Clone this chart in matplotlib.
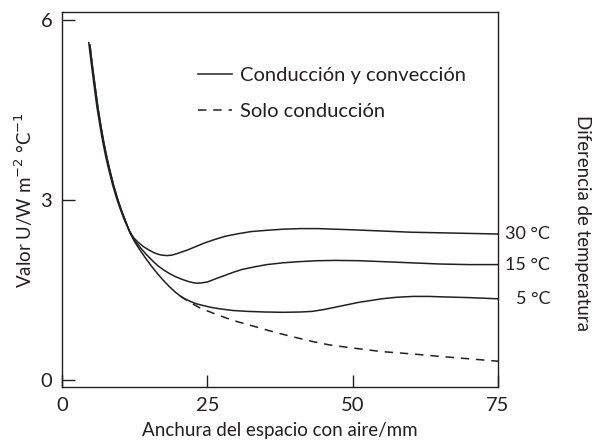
import matplotlib
matplotlib.use("Agg")
import matplotlib.pyplot as plt
import matplotlib.transforms as mtransforms

plt.rcParams['font.family'] = ['Lato', 'DejaVu Sans']

# anchura del espacio (mm) y valor U
x_30 = [4.6, 5.0, 5.5, 6.0, 6.5, 7.0, 7.5, 8.0, 8.7, 9.4, 10.0, 10.7, 11.5, 12.3, 13.0,
        14.0, 15.0, 16.0, 17.0, 18.1, 19.0, 20.0, 21.5, 23.0, 24.5, 26.0, 28.0, 30.0,
        32.5, 35.0, 38.0, 41.0, 44.0, 47.0, 50.0, 55.0, 60.0, 65.0, 70.0, 75.0]
u_30 = [5.62, 5.30, 4.92, 4.55, 4.25, 3.97, 3.73, 3.52, 3.25, 3.02, 2.85, 2.67, 2.50, 2.37, 2.30,
        2.22, 2.16, 2.11, 2.08, 2.07, 2.08, 2.11, 2.16, 2.22, 2.28, 2.33, 2.39, 2.43,
        2.47, 2.49, 2.51, 2.52, 2.52, 2.51, 2.50, 2.48, 2.46, 2.45, 2.44, 2.43]

x_15 = [4.8, 5.2, 5.7, 6.2, 6.7, 7.2, 7.7, 8.2, 8.9, 9.6, 10.2, 10.9, 11.7, 12.5, 13.5,
        14.5, 15.5, 16.5, 17.5, 18.5, 19.5, 20.5, 21.5, 22.5, 23.2, 24.0, 25.0, 26.6,
        28.0, 29.4, 31.0, 33.0, 35.2, 38.0, 40.9, 44.0, 47.0, 51.0, 55.0, 60.0, 65.0,
        70.0, 75.0]
u_15 = [5.58, 5.25, 4.88, 4.52, 4.22, 3.95, 3.71, 3.50, 3.23, 3.00, 2.83, 2.65, 2.45, 2.32, 2.20,
        2.09, 1.99, 1.90, 1.83, 1.77, 1.72, 1.68, 1.645, 1.62, 1.61, 1.615, 1.63, 1.69,
        1.74, 1.79, 1.84, 1.88, 1.92, 1.95, 1.97, 1.985, 1.99, 1.985, 1.97, 1.95, 1.93,
        1.92, 1.92]

x_5 = [4.8, 5.2, 5.7, 6.2, 6.7, 7.2, 7.7, 8.2, 8.9, 9.6, 10.2, 10.9, 11.7, 12.5, 13.5,
       14.5, 15.5, 16.5, 17.5, 18.5, 19.5, 20.3, 21.0, 22.0, 23.0, 24.0, 25.5, 27.0,
       29.4, 32.0, 35.0, 38.0, 41.0, 43.0, 45.0, 47.0, 49.0, 51.0, 53.0, 55.0, 57.5,
       60.4, 63.0, 66.2, 70.0, 75.0]
u_5 = [5.58, 5.25, 4.88, 4.52, 4.22, 3.95, 3.71, 3.50, 3.23, 3.00, 2.83, 2.65, 2.45, 2.30, 2.15,
       2.01, 1.88, 1.76, 1.65, 1.55, 1.46, 1.40, 1.355, 1.31, 1.27, 1.245, 1.21, 1.185,
       1.155, 1.14, 1.13, 1.125, 1.13, 1.14, 1.17, 1.21, 1.25, 1.29, 1.32, 1.35, 1.375,
       1.39, 1.39, 1.38, 1.37, 1.35]

x_cond = [20.3, 22.0, 23.7, 26.0, 29.4, 32.0, 35.2, 37.5, 40.0, 43.0, 46.1, 50.0, 55.0,
          60.4, 65.0, 70.0, 75.0]
u_cond = [1.40, 1.29, 1.20, 1.11, 0.99, 0.92, 0.83, 0.77, 0.71, 0.64, 0.58, 0.53, 0.47,
          0.43, 0.39, 0.35, 0.31]

labels_temp = ['30 °C', '15 °C', '5 °C']

col = '#231f20'

fig = plt.figure(figsize=(5.98, 4.43), dpi=100)
ax = fig.add_axes([0.1037, 0.1264, 0.7291, 0.8465])

l1, = ax.plot(x_30, u_30, color=col, lw=1.1)
ax.plot(x_15, u_15, color=col, lw=1.1)
ax.plot(x_5, u_5, color=col, lw=1.1)
l2, = ax.plot(x_cond, u_cond, color=col, lw=1.1, ls=(0, (5.5, 4.5)))

ax.set_xlim(0, 75)
ax.set_ylim(-0.12, 6.13)
ax.set_xticks([0, 25, 50, 75])
ax.set_yticks([0, 3, 6])
ax.tick_params(direction='in', length=9, width=1, labelsize=14.5, color=col, labelcolor=col)
ax.tick_params(axis='x', pad=7)
ax.tick_params(axis='y', pad=7)
for s in ax.spines.values():
    s.set_color(col)
    s.set_linewidth(1)

ax.set_xlabel('Anchura del espacio con aire/mm', fontsize=13.5, color=col, labelpad=6)
ax.set_ylabel('Valor U/W m$^{-2}$ °C$^{-1}$', fontsize=13.5, color=col, labelpad=4)

ax.legend([l1, l2], ['Conducción y convección', 'Solo conducción'], loc='upper left',
          bbox_to_anchor=(0.312, 0.853), frameon=False, fontsize=14.5, handlelength=1.7,
          handletextpad=0.4, labelspacing=0.95, borderpad=0, borderaxespad=0,
          labelcolor=col)

trans = mtransforms.blended_transform_factory(ax.transAxes, ax.transData)
for lab, yv in zip(labels_temp, [u_30[-1], u_15[-1], u_5[-1]]):
    ax.text(1.12, yv, lab, transform=trans, ha='right', va='center', fontsize=13, color=col)

fig.text(583 / 598, 1 - 223 / 443, 'Diferencia de temperatura', rotation=270,
         ha='center', va='center', fontsize=13.4, color=col)

fig.savefig('out.png', dpi=100)
